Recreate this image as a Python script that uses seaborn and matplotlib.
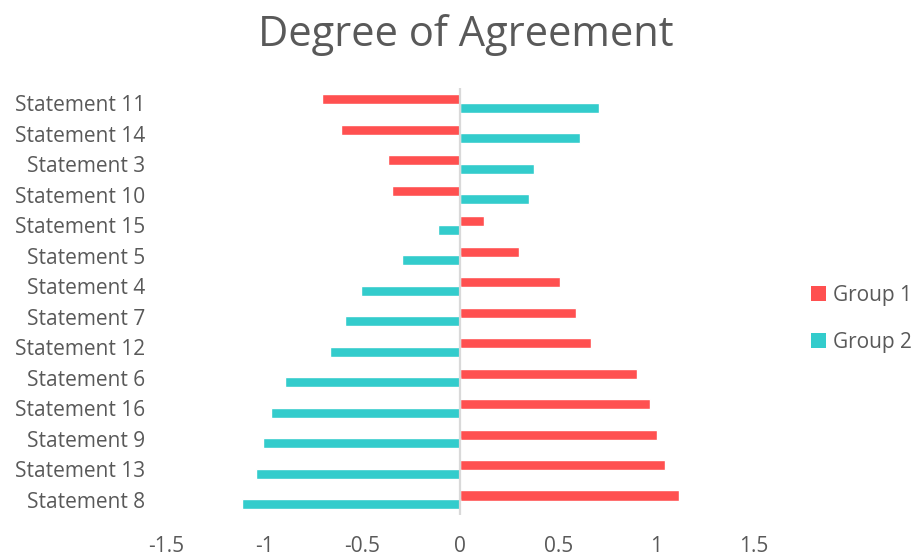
import matplotlib
matplotlib.use("Agg")
import matplotlib.pyplot as plt
import seaborn as sns
import pandas as pd
from matplotlib.patches import Patch

statements = ["Statement 11", "Statement 14", "Statement 3", "Statement 10", "Statement 15",
              "Statement 5", "Statement 4", "Statement 7", "Statement 12", "Statement 6",
              "Statement 16", "Statement 9", "Statement 13", "Statement 8"]
group1 = [-0.705, -0.605, -0.37, -0.345, 0.12, 0.30, 0.51, 0.59, 0.67, 0.90, 0.97, 1.005, 1.045, 1.115]
group2 = [0.71, 0.61, 0.375, 0.35, -0.115, -0.295, -0.505, -0.585, -0.665, -0.895, -0.965, -1.005, -1.04, -1.11]
groups = ["Group 1", "Group 2"]
colors = ["#FF5050", "#33CCCC"]
xticks = [-1.5, -1, -0.5, 0, 0.5, 1, 1.5]
xticklabels = ["-1.5", "-1", "-0.5", "0", "0.5", "1", "1.5"]

df = pd.DataFrame({
    "Statement": statements * 2,
    "Value": group1 + group2,
    "Group": [groups[0]] * len(statements) + [groups[1]] * len(statements),
})

sns.set_theme(style="white")
plt.rcParams["font.family"] = ["Open Sans", "DejaVu Sans"]

fig = plt.figure(figsize=(9.12, 5.58), dpi=100)
ax = fig.add_axes([0.182, 0.077, 0.645, 0.765])

sns.barplot(data=df, x="Value", y="Statement", hue="Group", order=statements,
            hue_order=groups, palette=colors, orient="h", width=0.56,
            saturation=1, ax=ax, legend=False)

# Slight overlap of paired bars, as in the reference
for p in ax.patches:
    h = p.get_height()
    p.set_y(p.get_y() - 0.025)
    p.set_height(h + 0.05)

ax.set_xlim(-1.5, 1.5)
ax.set_ylim(len(statements) - 0.5, -0.5)
ax.set_xticks(xticks)
ax.set_xticklabels(xticklabels)
for s in ax.spines.values():
    s.set_visible(False)
ax.axvline(0, color="#D9D9D9", lw=1.6, zorder=3)
ax.tick_params(axis="y", length=0, pad=15, labelsize=15, labelcolor="#595959")
ax.tick_params(axis="x", length=0, pad=15, labelsize=15, labelcolor="#595959")
ax.set_xlabel("")
ax.set_ylabel("")

handles = [Patch(facecolor=c, edgecolor="none") for c in colors]
ax.legend(handles, groups, loc="center left", bbox_to_anchor=(1.065, 0.46), frameon=False,
          fontsize=15, labelcolor="#595959", handlelength=0.7, handleheight=0.7,
          handletextpad=0.35, labelspacing=1.25)

fig.text(0.511, 1 - 46 / 558, "Degree of Agreement", ha="center", va="baseline",
         fontsize=30, color="#595959")

fig.savefig("out.png", dpi=100)
